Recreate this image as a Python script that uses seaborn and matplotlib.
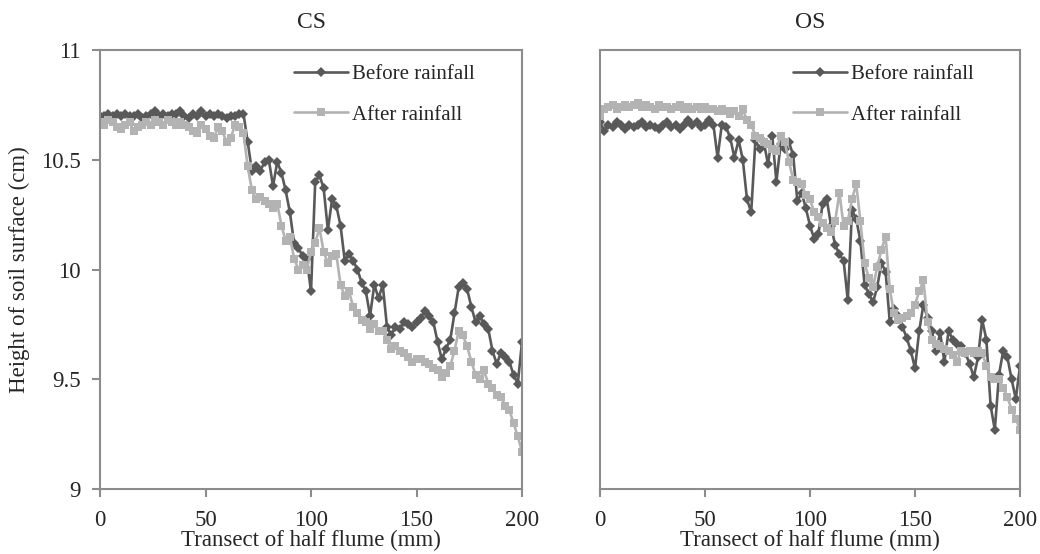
import numpy as np
import pandas as pd
import matplotlib
matplotlib.use("Agg")
import matplotlib.pyplot as plt
import seaborn as sns

# ---------------- data ----------------
transect = np.arange(0, 201, 2)  # mm

cs_before = [
    10.70, 10.70, 10.71, 10.70, 10.71, 10.70, 10.71, 10.70, 10.70, 10.71,
    10.69, 10.70, 10.71, 10.72, 10.70, 10.71, 10.70, 10.71, 10.71, 10.72,
    10.70, 10.69, 10.71, 10.70, 10.72, 10.70, 10.71, 10.70, 10.71, 10.70,
    10.69, 10.70, 10.70, 10.71, 10.71,
    10.58, 10.45, 10.47, 10.45, 10.49, 10.50, 10.38, 10.49, 10.44, 10.36,
    10.26, 10.12, 10.10, 10.06, 10.05, 9.90, 10.40, 10.43, 10.37, 10.18,
    10.32, 10.29, 10.20, 10.04, 10.07, 10.04, 10.00, 9.94, 9.90, 9.79,
    9.93, 9.87, 9.93, 9.74, 9.70, 9.74, 9.73, 9.76, 9.75, 9.74,
    9.76, 9.78, 9.81, 9.79, 9.76, 9.67, 9.59, 9.64, 9.68, 9.80,
    9.92, 9.94, 9.91, 9.83, 9.76, 9.79, 9.75, 9.73, 9.63, 9.57,
    9.62, 9.60, 9.58, 9.52, 9.48, 9.67,
]
cs_after = [
    10.67, 10.66, 10.68, 10.67, 10.65, 10.64, 10.66, 10.67, 10.63, 10.65,
    10.66, 10.67, 10.66, 10.68, 10.67, 10.66, 10.68, 10.67, 10.66, 10.67,
    10.66,
    10.65, 10.63, 10.62, 10.66, 10.64, 10.61, 10.60, 10.65, 10.63, 10.58,
    10.60, 10.66, 10.65, 10.62,
    10.47, 10.36, 10.32, 10.33, 10.31, 10.30, 10.28, 10.30, 10.20, 10.13,
    10.15, 10.05, 10.00, 10.02, 10.00, 10.08, 10.12, 10.19, 10.08, 10.03,
    10.06, 10.07, 9.93, 9.88, 9.90, 9.83, 9.80, 9.77, 9.76, 9.73,
    9.75, 9.72, 9.72, 9.68, 9.64, 9.65, 9.63, 9.62, 9.60, 9.58,
    9.59, 9.59, 9.58, 9.57, 9.55, 9.54, 9.51, 9.53, 9.56, 9.63,
    9.72, 9.70, 9.65, 9.58, 9.52, 9.50, 9.54, 9.48, 9.46, 9.43,
    9.42, 9.38, 9.36, 9.30, 9.24, 9.17,
]
os_before = [
    10.67, 10.63, 10.66, 10.65, 10.67, 10.66, 10.64, 10.66, 10.65, 10.66,
    10.67, 10.65, 10.66, 10.65, 10.64, 10.66, 10.67, 10.65, 10.66, 10.64,
    10.66, 10.68, 10.66, 10.67, 10.65, 10.66, 10.68,
    10.66, 10.51, 10.66, 10.65, 10.60, 10.51, 10.59, 10.50, 10.32, 10.26,
    10.59, 10.55, 10.58, 10.48, 10.61, 10.40, 10.57, 10.55, 10.58, 10.52,
    10.31, 10.35, 10.28, 10.20, 10.14, 10.16, 10.30, 10.32, 10.20, 10.11,
    10.07, 10.04, 9.86, 10.27, 10.23, 10.13, 9.93, 9.89, 9.85, 9.92,
    10.03, 9.99, 9.76, 9.82, 9.79, 9.74, 9.69, 9.63, 9.55, 9.72,
    9.84, 9.78, 9.72, 9.63, 9.71, 9.58, 9.72, 9.68, 9.66, 9.65,
    9.62, 9.57, 9.51, 9.60, 9.77, 9.68, 9.38, 9.27, 9.52, 9.63,
    9.60, 9.50, 9.41, 9.56,
]
os_after = [
    10.70, 10.73, 10.74, 10.75, 10.73, 10.74, 10.75, 10.74, 10.75, 10.76,
    10.74, 10.75, 10.74, 10.73, 10.75, 10.74, 10.74, 10.73, 10.74, 10.75,
    10.73, 10.74, 10.73, 10.74, 10.73, 10.74, 10.73,
    10.73, 10.72, 10.73, 10.72, 10.71, 10.72, 10.70, 10.73, 10.68, 10.66,
    10.61, 10.60, 10.58, 10.57, 10.55, 10.54, 10.61, 10.58, 10.49, 10.41,
    10.40, 10.39, 10.34, 10.32, 10.26, 10.24, 10.21, 10.19, 10.17, 10.22,
    10.35, 10.20, 10.22, 10.32, 10.39, 10.22, 10.03, 9.96, 9.92, 10.01,
    10.09, 10.15, 9.91, 9.80, 9.77, 9.78, 9.79, 9.80, 9.84, 9.90,
    9.95, 9.76, 9.68, 9.66, 9.65, 9.64, 9.63, 9.61, 9.58, 9.63,
    9.62, 9.63, 9.62, 9.63, 9.62, 9.56, 9.51, 9.50, 9.50, 9.46,
    9.42, 9.36, 9.32, 9.27,
]

panel_titles = ["CS", "OS"]
series_labels = ["Before rainfall", "After rainfall"]
x_ticks = [0, 50, 100, 150, 200]
y_ticks = [9, 9.5, 10, 10.5, 11]
y_tick_labels = ["9", "9.5", "10", "10.5", "11"]

# ---------------- style ----------------
sns.set_theme(style="white")
plt.rcParams["font.family"] = ["Liberation Serif", "DejaVu Serif"]

dark = "#595959"
light = "#b3b3b3"
spine_c = "#8c8c8c"
fs = 16.5

fig = plt.figure(figsize=(10.4, 5.54), dpi=100)
ax1 = fig.add_axes([100 / 1040, 1 - 489 / 554, 422 / 1040, 439 / 554])
ax2 = fig.add_axes([600 / 1040, 1 - 489 / 554, 420 / 1040, 439 / 554])

panels = [(ax1, cs_before, cs_after), (ax2, os_before, os_after)]
for i, (ax, before, after) in enumerate(panels):
    df = pd.DataFrame({"x": transect, "before": before, "after": after})
    sns.lineplot(data=df, x="x", y="before", ax=ax, color=dark, lw=1.9,
                 marker="D", markersize=5.5, markeredgewidth=0,
                 label=series_labels[0])
    sns.lineplot(data=df, x="x", y="after", ax=ax, color=light, lw=1.9,
                 marker="s", markersize=6, markeredgewidth=0,
                 label=series_labels[1])
    ax.set_xlim(0, 200)
    ax.set_ylim(9, 11)
    ax.set_xticks(x_ticks)
    ax.set_xticklabels([str(t) for t in x_ticks], fontsize=fs)
    ax.set_xlabel("Transect of half flume (mm)", fontsize=fs, labelpad=-1)
    ax.set_title(panel_titles[i], fontsize=17, pad=16)
    for s in ax.spines.values():
        s.set_color(spine_c)
        s.set_linewidth(1.5)
        s.set_visible(True)
    if i == 0:
        ax.set_yticks(y_ticks)
        ax.set_yticklabels(y_tick_labels, fontsize=fs)
        ax.set_ylabel("Height of soil surface (cm)", fontsize=fs, labelpad=8)
        ax.tick_params(axis="y", direction="out", length=6, width=1.5,
                       color=spine_c, left=True, pad=8)
    else:
        ax.set_yticks([])
        ax.set_ylabel("")
    ax.tick_params(axis="x", direction="out", length=6, width=1.5,
                   color=spine_c, bottom=True, pad=9)
    ax.grid(False)
    leg = ax.legend(loc="upper left", bbox_to_anchor=(0.43, 0.995),
                    frameon=False, fontsize=15, handlelength=2.6,
                    labelspacing=1.0, handletextpad=0.2, borderaxespad=0.2)

fig.savefig("out.png", dpi=100)
